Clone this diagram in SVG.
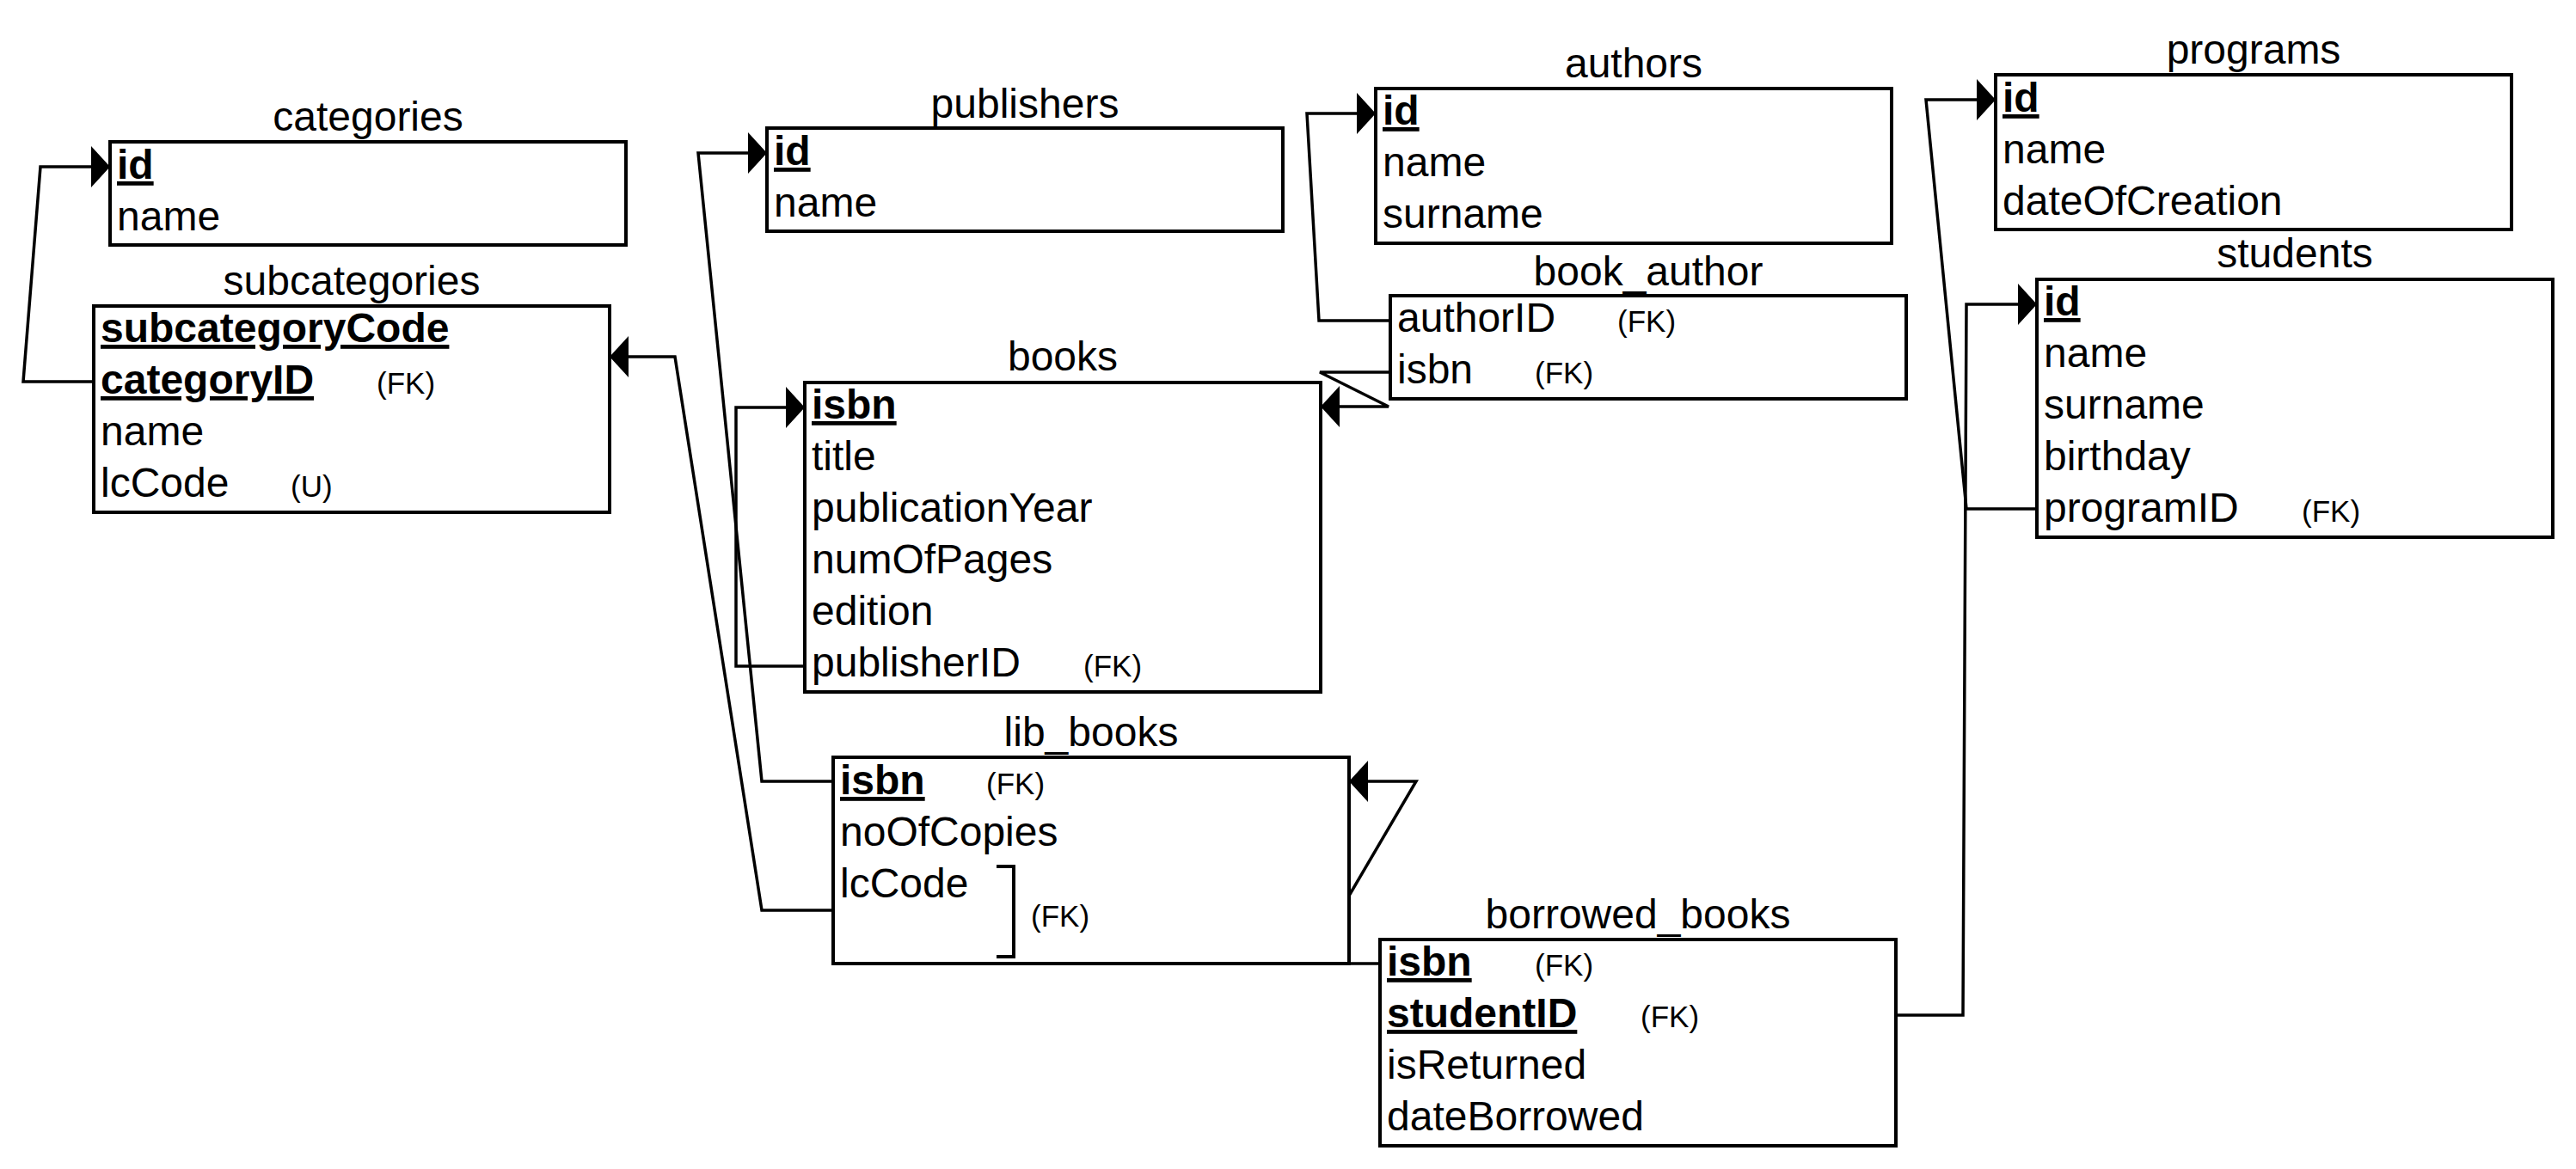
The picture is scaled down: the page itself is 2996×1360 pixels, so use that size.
<svg xmlns="http://www.w3.org/2000/svg" width="2996" height="1360" viewBox="0 0 2996 1360">
<style>
text { font-family: "Liberation Sans", Arial, Helvetica, sans-serif; fill: #000; }
.title { font-size: 48px; text-anchor: middle; }
.f { font-size: 48px; }
.pk { font-size: 48px; font-weight: bold; text-decoration: underline; }
.fk { font-size: 35px; }
.box { fill: #fff; stroke: #000; stroke-width: 4; }
.conn { fill: none; stroke: #000; stroke-width: 3.5; marker-end: url(#arr); }
.brk { fill: none; stroke: #000; stroke-width: 4; }
</style>
<defs>
<marker id="arr" markerUnits="userSpaceOnUse" markerWidth="24" markerHeight="48" refX="22" refY="24" orient="auto" viewBox="0 0 24 48">
<path d="M0,0 L22,24 L0,48 Z" fill="#000"/>
</marker>
</defs>
<rect width="2996" height="1360" fill="#fff"/>
<g id="connectors">
<path class="conn" d="M109,444 L27,444 L47,194 L128,194"/>
<path class="conn" d="M969,1059 L886,1059 L785,415 L709,415"/>
<path class="conn" d="M969,909 L886,909 L812,178 L892,178"/>
<path class="conn" d="M936,775 L856,775 L856,474 L936,474"/>
<path class="conn" d="M1617,373 L1534,373 L1520,132 L1600,132"/>
<path class="conn" d="M1617,433 L1535,433 L1615,473 L1536,473"/>
<path class="conn" d="M1605,1121 L1569,1121 L1569,1042 L1647,909 L1569,909"/>
<path class="conn" d="M2205,1181 L2283,1181 L2287,354 L2369,354"/>
<path class="conn" d="M2369,592 L2287,592 L2240,116 L2321,116"/>
</g>
<g id="categories">
<rect class="box" x="128" y="165" width="600" height="120"/>
<text class="title" x="428" y="152">categories</text>
<text class="pk" x="136" y="208">id</text>
<text class="f" x="136" y="268">name</text>
</g>
<g id="subcategories">
<rect class="box" x="109" y="356" width="600" height="240"/>
<text class="title" x="409" y="343">subcategories</text>
<text class="pk" x="117" y="398">subcategoryCode</text>
<text class="pk" x="117" y="458">categoryID</text>
<text class="fk" x="438" y="458">(FK)</text>
<text class="f" x="117" y="518">name</text>
<text class="f" x="117" y="578">lcCode</text>
<text class="fk" x="338" y="578">(U)</text>
</g>
<g id="publishers">
<rect class="box" x="892" y="149" width="600" height="120"/>
<text class="title" x="1192" y="137">publishers</text>
<text class="pk" x="900" y="192">id</text>
<text class="f" x="900" y="252">name</text>
</g>
<g id="books">
<rect class="box" x="936" y="445" width="600" height="360"/>
<text class="title" x="1236" y="431">books</text>
<text class="pk" x="944" y="487">isbn</text>
<text class="f" x="944" y="547">title</text>
<text class="f" x="944" y="607">publicationYear</text>
<text class="f" x="944" y="667">numOfPages</text>
<text class="f" x="944" y="727">edition</text>
<text class="f" x="944" y="787">publisherID</text>
<text class="fk" x="1260" y="787">(FK)</text>
</g>
<g id="authors">
<rect class="box" x="1600" y="103" width="600" height="180"/>
<text class="title" x="1900" y="90">authors</text>
<text class="pk" x="1608" y="145">id</text>
<text class="f" x="1608" y="205">name</text>
<text class="f" x="1608" y="265">surname</text>
</g>
<g id="book_author">
<rect class="box" x="1617" y="344" width="600" height="120"/>
<text class="title" x="1917" y="332">book_author</text>
<text class="f" x="1625" y="386">authorID</text>
<text class="fk" x="1881" y="386">(FK)</text>
<text class="f" x="1625" y="446">isbn</text>
<text class="fk" x="1785" y="446">(FK)</text>
</g>
<g id="lib_books">
<rect class="box" x="969" y="881" width="600" height="240"/>
<text class="title" x="1269" y="868">lib_books</text>
<text class="pk" x="977" y="924">isbn</text>
<text class="fk" x="1147" y="924">(FK)</text>
<text class="f" x="977" y="984">noOfCopies</text>
<text class="f" x="977" y="1044">lcCode</text>
<path class="brk" d="M1159,1008 L1179,1008 L1179,1113 L1159,1113"/>
<text class="fk" x="1199" y="1078">(FK)</text>
</g>
<g id="borrowed_books">
<rect class="box" x="1605" y="1093" width="600" height="240"/>
<text class="title" x="1905" y="1080">borrowed_books</text>
<text class="pk" x="1613" y="1135">isbn</text>
<text class="fk" x="1785" y="1135">(FK)</text>
<text class="pk" x="1613" y="1195">studentID</text>
<text class="fk" x="1908" y="1195">(FK)</text>
<text class="f" x="1613" y="1255">isReturned</text>
<text class="f" x="1613" y="1315">dateBorrowed</text>
</g>
<g id="programs">
<rect class="box" x="2321" y="87" width="600" height="180"/>
<text class="title" x="2621" y="74">programs</text>
<text class="pk" x="2329" y="130">id</text>
<text class="f" x="2329" y="190">name</text>
<text class="f" x="2329" y="250">dateOfCreation</text>
</g>
<g id="students">
<rect class="box" x="2369" y="325" width="600" height="300"/>
<text class="title" x="2669" y="311">students</text>
<text class="pk" x="2377" y="367">id</text>
<text class="f" x="2377" y="427">name</text>
<text class="f" x="2377" y="487">surname</text>
<text class="f" x="2377" y="547">birthday</text>
<text class="f" x="2377" y="607">programID</text>
<text class="fk" x="2677" y="607">(FK)</text>
</g>
</svg>
